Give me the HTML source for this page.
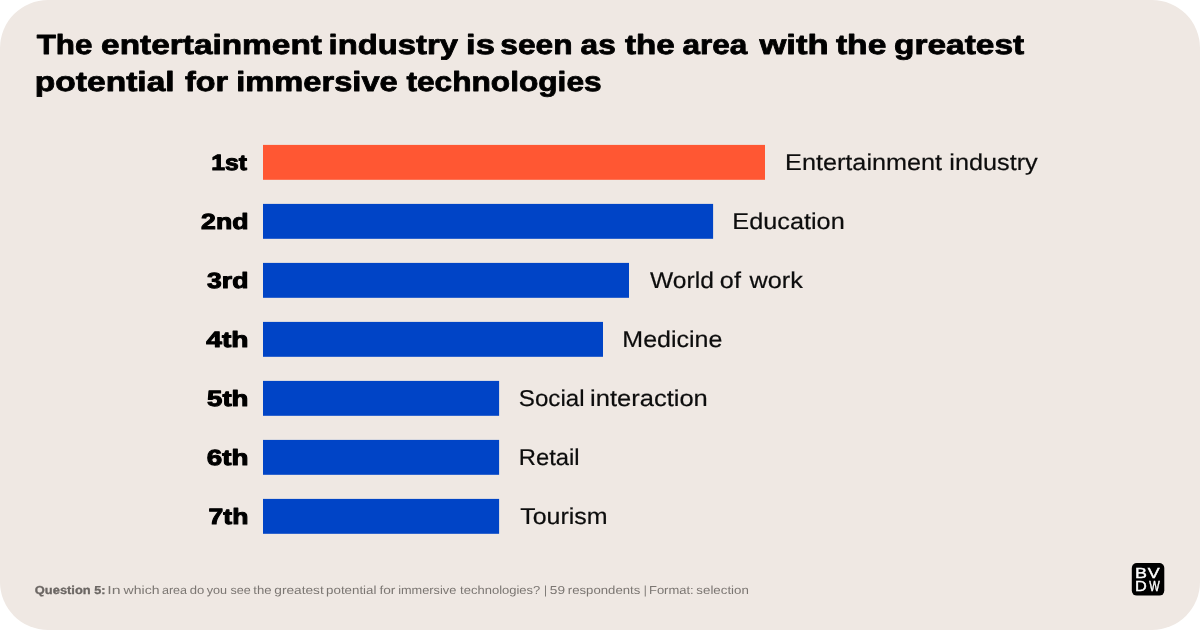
<!DOCTYPE html>
<html lang="en">
<head>
<meta charset="utf-8">
<title>The entertainment industry is seen as the area with the greatest potential for immersive technologies</title>
<style>
html,body{margin:0;padding:0;background:#ffffff;}
body{width:1200px;height:630px;overflow:hidden;position:relative;}
svg{position:absolute;left:0;top:0;display:block;}
text{white-space:pre;text-rendering:geometricPrecision;}
.t{font-family:"Liberation Sans","DejaVu Sans",sans-serif;font-weight:700;fill:#000;stroke:#000;stroke-width:0.8px;stroke-linejoin:round;}
.r{font-family:"Liberation Sans","DejaVu Sans",sans-serif;font-weight:700;fill:#000;stroke:#000;stroke-width:1px;stroke-linejoin:round;}
.l{font-family:"Liberation Sans","DejaVu Sans",sans-serif;font-weight:400;fill:#0d0d0d;stroke:#0d0d0d;stroke-width:0.2px;}
.f{font-family:"Liberation Sans","DejaVu Sans",sans-serif;font-weight:400;fill:#7b7672;}
.g{font-family:"Liberation Sans","DejaVu Sans",sans-serif;font-weight:400;fill:#fff;stroke:#fff;stroke-width:0.4px;}
.fb{font-weight:700;fill:#6b6663;stroke:#6b6663;stroke-width:0.3px;}
</style>
</head>
<body>
<svg width="1200" height="630" viewBox="0 0 1200 630">
  <rect x="0" y="0" width="1200" height="630" rx="48" ry="48" fill="#efe8e3"/>

  <rect x="263" y="144.9" width="502" height="34.9" fill="#ff5733"/>
  <rect x="263" y="203.9" width="450.1" height="34.9" fill="#0044c6"/>
  <rect x="263" y="262.9" width="366" height="34.9" fill="#0044c6"/>
  <rect x="263" y="321.9" width="340" height="34.9" fill="#0044c6"/>
  <rect x="263" y="380.9" width="236.1" height="34.9" fill="#0044c6"/>
  <rect x="263" y="439.9" width="236.1" height="34.9" fill="#0044c6"/>
  <rect x="263" y="498.9" width="236.1" height="34.9" fill="#0044c6"/>

  <rect x="1131.8" y="563" width="32.5" height="32.6" rx="5" ry="5" fill="#000"/>
  <text class="t" font-size="27.6" y="54.3"><tspan x="36.65" textLength="55.75" lengthAdjust="spacingAndGlyphs">The</tspan> <tspan x="101.11" textLength="220.80" lengthAdjust="spacingAndGlyphs">entertainment</tspan> <tspan x="328.63" textLength="129.34" lengthAdjust="spacingAndGlyphs">industry</tspan> <tspan x="466.12" textLength="28.81" lengthAdjust="spacingAndGlyphs">is</tspan> <tspan x="500.34" textLength="72.17" lengthAdjust="spacingAndGlyphs">seen</tspan> <tspan x="580.61" textLength="35.15" lengthAdjust="spacingAndGlyphs">as</tspan> <tspan x="624.92" textLength="49.74" lengthAdjust="spacingAndGlyphs">the</tspan> <tspan x="682.54" textLength="64.80" lengthAdjust="spacingAndGlyphs">area</tspan> <tspan x="759.46" textLength="69.14" lengthAdjust="spacingAndGlyphs">with</tspan> <tspan x="835.95" textLength="50.38" lengthAdjust="spacingAndGlyphs">the</tspan> <tspan x="894.12" textLength="130.01" lengthAdjust="spacingAndGlyphs">greatest</tspan></text>
  <text class="t" font-size="27.6" y="91.0"><tspan x="34.87" textLength="139.79" lengthAdjust="spacingAndGlyphs">potential</tspan> <tspan x="184.97" textLength="43.05" lengthAdjust="spacingAndGlyphs">for</tspan> <tspan x="236.29" textLength="161.42" lengthAdjust="spacingAndGlyphs">immersive</tspan> <tspan x="406.41" textLength="195.22" lengthAdjust="spacingAndGlyphs">technologies</tspan></text>
  <text class="r" font-size="22" y="169.9"><tspan x="211.33" textLength="35.73" lengthAdjust="spacingAndGlyphs">1st</tspan></text>
  <text class="r" font-size="22" y="228.9"><tspan x="201.12" textLength="47.33" lengthAdjust="spacingAndGlyphs">2nd</tspan></text>
  <text class="r" font-size="22" y="287.9"><tspan x="207.11" textLength="41.29" lengthAdjust="spacingAndGlyphs">3rd</tspan></text>
  <text class="r" font-size="22" y="346.9"><tspan x="206.32" textLength="42.19" lengthAdjust="spacingAndGlyphs">4th</tspan></text>
  <text class="r" font-size="22" y="405.9"><tspan x="207.04" textLength="41.43" lengthAdjust="spacingAndGlyphs">5th</tspan></text>
  <text class="r" font-size="22" y="464.9"><tspan x="206.86" textLength="41.68" lengthAdjust="spacingAndGlyphs">6th</tspan></text>
  <text class="r" font-size="22" y="523.9"><tspan x="208.58" textLength="39.76" lengthAdjust="spacingAndGlyphs">7th</tspan></text>
  <text class="l" font-size="22.9" y="170.25"><tspan x="785.11" textLength="156.97" lengthAdjust="spacingAndGlyphs">Entertainment</tspan> <tspan x="949.31" textLength="88.46" lengthAdjust="spacingAndGlyphs">industry</tspan></text>
  <text class="l" font-size="22.9" y="229.25"><tspan x="732.37" textLength="112.36" lengthAdjust="spacingAndGlyphs">Education</tspan></text>
  <text class="l" font-size="22.9" y="288.25"><tspan x="650.11" textLength="63.77" lengthAdjust="spacingAndGlyphs">World</tspan> <tspan x="719.85" textLength="21.06" lengthAdjust="spacingAndGlyphs">of</tspan> <tspan x="749.46" textLength="53.34" lengthAdjust="spacingAndGlyphs">work</tspan></text>
  <text class="l" font-size="22.9" y="347.25"><tspan x="622.35" textLength="100.08" lengthAdjust="spacingAndGlyphs">Medicine</tspan></text>
  <text class="l" font-size="22.9" y="406.25"><tspan x="518.89" textLength="65.70" lengthAdjust="spacingAndGlyphs">Social</tspan> <tspan x="590.04" textLength="117.78" lengthAdjust="spacingAndGlyphs">interaction</tspan></text>
  <text class="l" font-size="22.9" y="465.25"><tspan x="518.86" textLength="60.80" lengthAdjust="spacingAndGlyphs">Retail</tspan></text>
  <text class="l" font-size="22.9" y="524.25"><tspan x="520.22" textLength="87.40" lengthAdjust="spacingAndGlyphs">Tourism</tspan></text>
  <text class="f fb" font-size="11.6" y="594"><tspan x="34.86" textLength="55.78" lengthAdjust="spacingAndGlyphs">Question</tspan> <tspan x="94.20" textLength="11.22" lengthAdjust="spacingAndGlyphs">5:</tspan></text>
  <text class="f" font-size="11.6" y="594"><tspan x="107.33" textLength="13.29" lengthAdjust="spacingAndGlyphs">In</tspan> <tspan x="123.55" textLength="35.96" lengthAdjust="spacingAndGlyphs">which</tspan> <tspan x="161.90" textLength="25.17" lengthAdjust="spacingAndGlyphs">area</tspan> <tspan x="189.77" textLength="14.55" lengthAdjust="spacingAndGlyphs">do</tspan> <tspan x="206.70" textLength="20.37" lengthAdjust="spacingAndGlyphs">you</tspan> <tspan x="230.47" textLength="20.23" lengthAdjust="spacingAndGlyphs">see</tspan> <tspan x="253.37" textLength="18.30" lengthAdjust="spacingAndGlyphs">the</tspan> <tspan x="274.37" textLength="49.35" lengthAdjust="spacingAndGlyphs">greatest</tspan> <tspan x="326.09" textLength="50.36" lengthAdjust="spacingAndGlyphs">potential</tspan> <tspan x="379.44" textLength="15.97" lengthAdjust="spacingAndGlyphs">for</tspan> <tspan x="398.17" textLength="58.07" lengthAdjust="spacingAndGlyphs">immersive</tspan> <tspan x="460.13" textLength="80.19" lengthAdjust="spacingAndGlyphs">technologies?</tspan> <tspan x="543.99" textLength="3.02" lengthAdjust="spacingAndGlyphs">|</tspan> <tspan x="549.84" textLength="15.20" lengthAdjust="spacingAndGlyphs">59</tspan> <tspan x="567.84" textLength="72.44" lengthAdjust="spacingAndGlyphs">respondents</tspan> <tspan x="643.69" textLength="3.02" lengthAdjust="spacingAndGlyphs">|</tspan> <tspan x="648.96" textLength="44.76" lengthAdjust="spacingAndGlyphs">Format:</tspan> <tspan x="696.39" textLength="52.43" lengthAdjust="spacingAndGlyphs">selection</tspan></text>
  <text class="g" font-size="14.5" y="577.9"><tspan x="1134.95" textLength="11.92" lengthAdjust="spacingAndGlyphs">B</tspan><tspan x="1147.78" textLength="11.88" lengthAdjust="spacingAndGlyphs">V</tspan></text>
  <text class="g" font-size="14.5" y="590.6"><tspan x="1135.07" textLength="11.76" lengthAdjust="spacingAndGlyphs">D</tspan><tspan x="1149.13" textLength="10.48" lengthAdjust="spacingAndGlyphs">W</tspan></text>
</svg>
</body>
</html>
